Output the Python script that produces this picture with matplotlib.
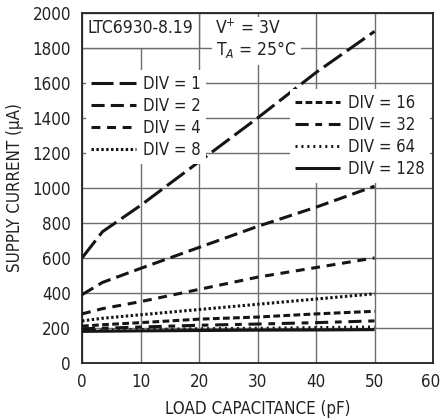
import numpy as np
import matplotlib
matplotlib.use('Agg')
import matplotlib.pyplot as plt
import matplotlib.transforms as mtransforms
from matplotlib import font_manager
from matplotlib.patches import Rectangle

# pick a narrow sans if one of the listed families has it, else Liberation Sans
files = [f for f in font_manager.fontManager.ttflist]
narrow = [f for f in files if f.fname.endswith(('LiberationSansNarrow-Regular.ttf',
                                                'DejaVuSansCondensed.ttf'))]
if narrow:
    fam = narrow[0].name
    plt.rcParams['font.stretch'] = narrow[0].stretch
    fs = 12.2
else:
    fam = 'Liberation Sans'
    fs = 12.5
plt.rcParams['font.family'] = [fam, 'DejaVu Sans']

cap = [0, 3.5, 10, 20, 30, 40, 50]
div1 = [600, 750, 900, 1150, 1400, 1660, 1895]
div2 = [390, 460, 540, 660, 780, 890, 1010]
div4 = [280, 310, 350, 420, 490, 545, 600]
div8 = [240, 255, 275, 305, 335, 365, 395]
div16 = [210, 218, 230, 250, 262, 280, 295]
div32 = [195, 198, 205, 215, 222, 230, 240]
div64 = [185, 187, 190, 195, 198, 202, 205]
div128 = [180, 181, 183, 185, 187, 188, 190]

labels = ['DIV = 1', 'DIV = 2', 'DIV = 4', 'DIV = 8',
          'DIV = 16', 'DIV = 32', 'DIV = 64', 'DIV = 128']
series = [div1, div2, div4, div8, div16, div32, div64, div128]
dashes = [(7.2, 2.0), (4.3, 2.0), (2.9, 2.2), (0.8, 0.8),
          (2.2, 1.1), (4.3, 2.2, 2.2, 2.2), (0.65, 1.3), None]

fig = plt.figure(figsize=(4.41, 4.20), dpi=100)
ax = fig.add_axes([0.186, 0.136, 0.796, 0.833])

handles = []
for y, lab, d in zip(series, labels, dashes):
    ln, = ax.plot(cap, y, color='#151515', lw=2.2, solid_capstyle='butt',
                  dash_capstyle='butt', zorder=3)
    if d is not None:
        ln.set_dashes(d)
    handles.append(ln)

ax.set_xlim(0, 60)
ax.set_ylim(0, 2000)
ax.set_xticks(np.arange(0, 61, 10))
ax.set_yticks(np.arange(0, 2001, 200))
ax.grid(True, color='#6e6e6e', lw=1.0)
ax.set_axisbelow(True)
ax.tick_params(length=0, labelsize=fs, labelcolor='#222222')
ax.tick_params(axis='y', pad=8)
ax.tick_params(axis='x', pad=7)
for s in ax.spines.values():
    s.set_linewidth(1.3)
    s.set_color('#222222')

# keep the last x label inside the picture
last = ax.get_xticklabels()[-1]
last.set_transform(last.get_transform() +
                   mtransforms.ScaledTranslation(-2 / 72, 0, fig.dpi_scale_trans))

ax.set_xlabel('LOAD CAPACITANCE (pF)', fontsize=fs, labelpad=7, color='#222222')
ax.set_ylabel('SUPPLY CURRENT (µA)', fontsize=fs, labelpad=6, color='#222222')

# boxed part label in the top left corner
ax.add_patch(Rectangle((0, 1800), 20, 200, facecolor='white',
                       edgecolor='#6e6e6e', lw=1.0, zorder=1))
ax.text(9.9, 1912, 'LTC6930-8.19', ha='center', va='center', fontsize=fs + 0.3, zorder=4,
        color='#222222')
ax.text(28.4, 1914, 'V$^{+}$ = 3V', ha='center', va='center', fontsize=fs + 0.3, zorder=4,
        color='#222222', bbox=dict(fc='white', ec='none', pad=1))
ax.text(29.8, 1789, 'T$_{A}$ = 25°C', ha='center', va='center', fontsize=fs + 0.3, zorder=4,
        color='#222222', bbox=dict(fc='white', ec='none', pad=3))

kw = dict(frameon=True, framealpha=1, edgecolor='none', fancybox=False,
          fontsize=fs - 0.2, handlelength=2.7, handletextpad=0.45, labelspacing=0.24,
          borderpad=0.3, borderaxespad=0, labelcolor='#222222')
leg1 = ax.legend(handles[:4], labels[:4], loc='upper left',
                 bbox_to_anchor=(0.01, 0.838), **kw)
ax.add_artist(leg1)
ax.legend(handles[4:], labels[4:], loc='upper right',
          bbox_to_anchor=(0.99, 0.782), **kw)

fig.savefig('out.png', dpi=100)
